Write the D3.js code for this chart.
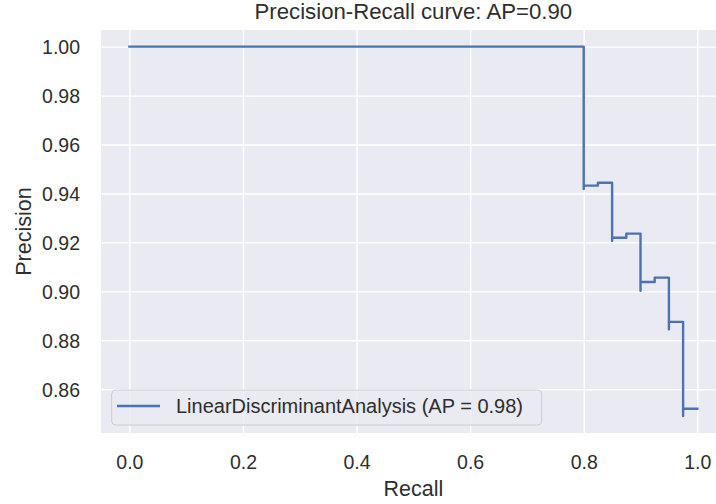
<!DOCTYPE html>
<html>
<head>
<meta charset="utf-8">
<script src="https://cdn.jsdelivr.net/npm/d3@7"></script>
<style>
  html, body { margin: 0; padding: 0; background: #ffffff; }
  svg { display: block; }
  text { font-family: "Liberation Sans", Arial, sans-serif; fill: #2e2e2e; }
</style>
</head>
<body>
<svg id="chart" width="716" height="504"></svg>
<script>
// Data (plotting order: decreasing recall, step-post)
const recall    = [1.0,   0.975, 0.975,  0.95,   0.95,   0.925,  0.9,    0.9,    0.875,  0.85,   0.85,   0.825,  0.8,    0.8, 0.0];
const precision = [0.852, 0.849, 0.8875, 0.8845, 0.9056, 0.9038, 0.9002, 0.9236, 0.9219, 0.9207, 0.9444, 0.9432, 0.9418, 1.0, 1.0];
const xTicks = [0.0, 0.2, 0.4, 0.6, 0.8, 1.0];
const yTicks = [0.86, 0.88, 0.90, 0.92, 0.94, 0.96, 0.98, 1.00];
const titleText = "Precision-Recall curve: AP=0.90";
const xLabel = "Recall";
const yLabel = "Precision";
const legendLabel = "LinearDiscriminantAnalysis (AP = 0.98)";

const svg = d3.select("#chart");
const pL = 101, pR = 725.7, pT = 30, pB = 433;

const x = d3.scaleLinear().domain([-0.05, 1.05]).range([pL, pR]);
const y = d3.scaleLinear().domain([0.8421, 1.0068]).range([pB, pT]);

// plot background
svg.append("rect")
  .attr("x", pL).attr("y", pT)
  .attr("width", pR - pL).attr("height", pB - pT)
  .attr("fill", "#EAEAF2");

// grid + tick labels via axes
const gx = svg.append("g")
  .attr("transform", `translate(0,${pB})`)
  .call(d3.axisBottom(x).tickValues(xTicks).tickFormat(d3.format(".1f"))
        .tickSize(-(pB - pT)).tickPadding(0));
gx.select(".domain").remove();
gx.selectAll(".tick line").attr("stroke", "#ffffff").attr("stroke-width", 1.4);
gx.selectAll(".tick text")
  .attr("y", 36).attr("dy", null)
  .style("font-size", "19.5px").style("fill", "#2e2e2e");

const gy = svg.append("g")
  .attr("transform", `translate(${pL},0)`)
  .call(d3.axisLeft(y).tickValues(yTicks).tickFormat(d3.format(".2f"))
        .tickSize(-(pR - pL)).tickPadding(0));
gy.select(".domain").remove();
gy.selectAll(".tick line").attr("stroke", "#ffffff").attr("stroke-width", 1.4);
gy.selectAll(".tick text")
  .attr("x", -21).attr("dy", "0.35em")
  .style("font-size", "19.5px").style("fill", "#2e2e2e");
svg.selectAll("g").attr("font-family", null).attr("font-size", null);

// curve
const line = d3.line()
  .x((d, i) => x(recall[i]))
  .y((d, i) => y(precision[i]))
  .curve(d3.curveStepAfter);

svg.append("path")
  .datum(recall)
  .attr("d", line)
  .attr("fill", "none")
  .attr("stroke", "#4C72B0")
  .attr("stroke-width", 2.4)
  .attr("stroke-linejoin", "round")
  .attr("stroke-linecap", "square");

// legend
const lg = svg.append("g");
lg.append("rect")
  .attr("x", 111.7).attr("y", 390).attr("width", 430).attr("height", 35)
  .attr("rx", 4).attr("ry", 4)
  .attr("fill", "#EAEAF2").attr("fill-opacity", 0.8)
  .attr("stroke", "#cccccc").attr("stroke-width", 1);
lg.append("line")
  .attr("x1", 117).attr("x2", 160).attr("y1", 406).attr("y2", 406)
  .attr("stroke", "#4C72B0").attr("stroke-width", 2.4);
lg.append("text")
  .attr("x", 176).attr("y", 406).attr("dy", "0.35em")
  .style("font-size", "20px")
  .text(legendLabel);

// title and axis labels
svg.append("text")
  .attr("x", (pL + pR) / 2).attr("y", 19)
  .attr("text-anchor", "middle")
  .style("font-size", "22.2px")
  .text(titleText);

svg.append("text")
  .attr("x", (pL + pR) / 2).attr("y", 496)
  .attr("text-anchor", "middle")
  .style("font-size", "21.5px")
  .text(xLabel);

svg.append("text")
  .attr("transform", `translate(31,${(pT + pB) / 2}) rotate(-90)`)
  .attr("text-anchor", "middle")
  .style("font-size", "21.5px")
  .text(yLabel);
</script>
</body>
</html>
